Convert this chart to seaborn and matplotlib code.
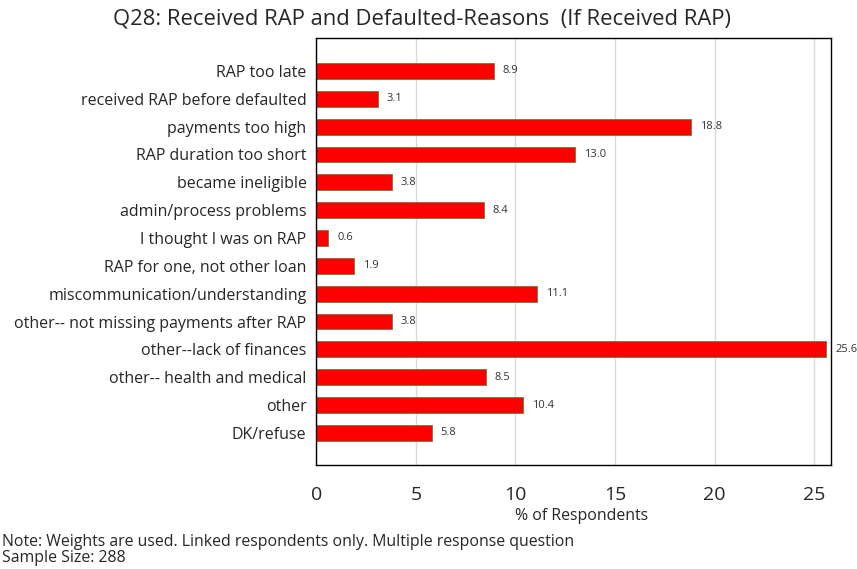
import pandas as pd
import seaborn as sns
import matplotlib.pyplot as plt

# data
reasons = ['RAP too late', 'received RAP before defaulted', 'payments too high',
           'RAP duration too short', 'became ineligible', 'admin/process problems',
           'I thought I was on RAP', 'RAP for one, not other loan',
           'miscommunication/understanding', 'other-- not missing payments after RAP',
           'other--lack of finances', 'other-- health and medical', 'other', 'DK/refuse']
pct = [8.9, 3.1, 18.8, 13.0, 3.8, 8.4, 0.6, 1.9, 11.1, 3.8, 25.6, 8.5, 10.4, 5.8]

df = pd.DataFrame({'reason': reasons, 'pct': pct})

sns.set_style('white')
plt.rcParams['font.family'] = ['Open Sans', 'DejaVu Sans']

fig = plt.figure(figsize=(8.57, 5.69), dpi=100)
ax = fig.add_axes([0.369, 0.183, 0.601, 0.750])

sns.barplot(data=df, x='pct', y='reason', orient='h', color='#ff0000',
            saturation=1, width=0.57, edgecolor='#6b7b3a', linewidth=0.6, ax=ax)

for i, v in enumerate(pct):
    ax.text(v + 0.45, i, f'{v:.1f}', va='center', ha='left', fontsize=8, color='#333333')

ax.set_xlim(0, 25.85)
ax.set_ylim(14.15, -1.18)
ax.set_xticks([0, 5, 10, 15, 20, 25])
ax.tick_params(axis='x', labelsize=14, length=0, pad=15)
ax.tick_params(axis='y', labelsize=11.5, length=0, pad=7)
ax.xaxis.grid(True, color='#d9d9d9', linewidth=1)
ax.set_axisbelow(True)
for s in ax.spines.values():
    s.set_color('black')
    s.set_linewidth(1)

ax.set_ylabel('')
ax.set_xlabel('% of Respondents', fontsize=11.4)
ax.xaxis.set_label_coords(0.515, -0.102)
fig.text(0.492, 0.966, 'Q28: Received RAP and Defaulted-Reasons  (If Received RAP)',
         ha='center', va='center', fontsize=15.8)

fig.text(0.002, 0.047, 'Note: Weights are used. Linked respondents only. Multiple response question',
         fontsize=11.4, va='center')
fig.text(0.002, 0.019, 'Sample Size: 288', fontsize=11.4, va='center')

fig.savefig('out.png', dpi=100)
